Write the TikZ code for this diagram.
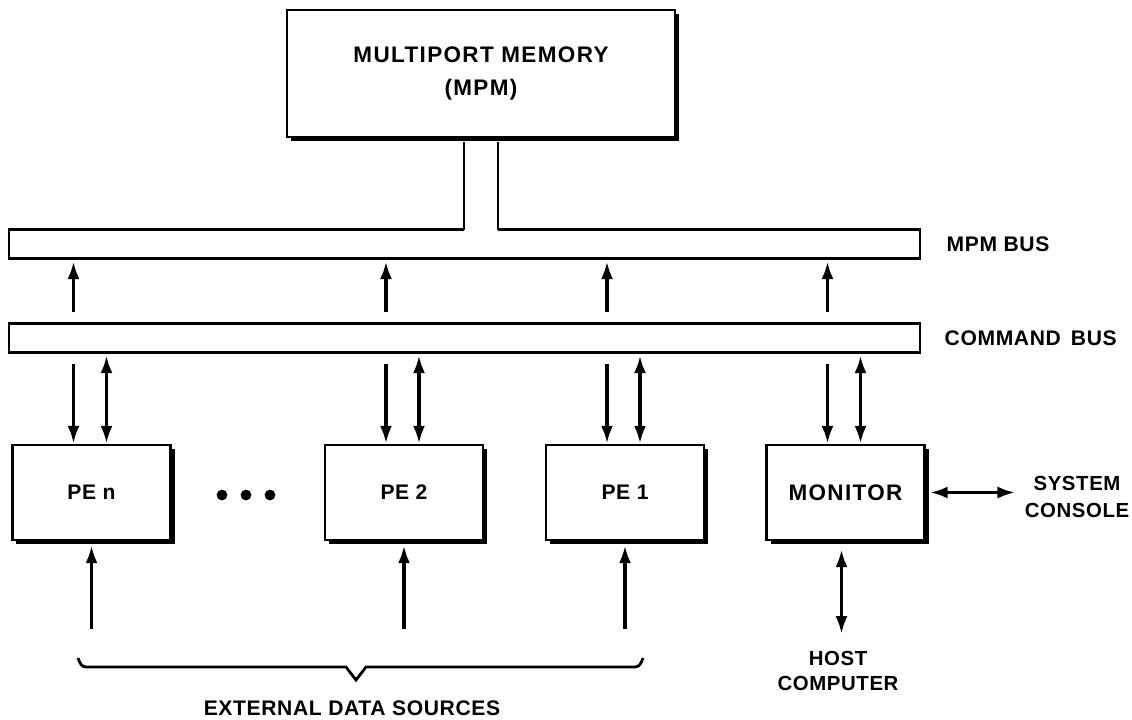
\documentclass[tikz,border=0pt]{standalone}
\usepackage{fontspec}
\setmainfont{Liberation Sans}
\newfontfamily\lbf{Liberation Sans}[LetterSpace=3]
\newfontfamily\lbw{Liberation Sans}[LetterSpace=6]
\usetikzlibrary{arrows.meta,shadows}
\begin{document}
\begin{tikzpicture}[x=0.25mm,y=-0.25mm,
  font=\lbf\bfseries\fontsize{15pt}{18pt}\selectfont,
  box/.style={draw,line width=0.6mm,fill=white,
    drop shadow={shadow xshift=1mm,shadow yshift=-1mm,fill=black,opacity=1},
    minimum width=39.5mm,minimum height=23.75mm,inner sep=0pt},
  bus/.style={draw,line width=0.7mm,fill=white,minimum width=227.75mm,minimum height=7.25mm,inner sep=0pt},
  arr/.style={line width=0.9mm,-{Latex[length=4.5mm,width=3mm]}},
  darr/.style={line width=0.9mm,{Latex[length=4.5mm,width=3mm]}-{Latex[length=4.5mm,width=3mm]}},
  lbl/.style={align=center,inner sep=0pt}]
\useasboundingbox (0,0) rectangle (1132,719);

% memory and buses
\node[box,minimum width=97mm,minimum height=31.75mm,align=center,
  font=\lbw\bfseries\fontsize{16pt}{24pt}\selectfont] (mpm) at (481,73.5) {MULTIPORT MEMORY\\(MPM)};
\node[bus] (mbus) at (464.5,244) {};
\node[bus] (cbus) at (464.5,338) {};

% stem joining memory to MPM bus
\fill[white] ([xshift=-4.25mm,yshift=0.7mm]mpm.south |- mbus.north) rectangle ([xshift=4.25mm,yshift=-0.7mm]mpm.south |- mbus.north);
\draw[line width=0.7mm] ([xshift=-4.25mm,yshift=-1mm]mpm.south) -- ([xshift=-4.25mm,yshift=-0.35mm]mpm.south |- mbus.north);
\draw[line width=0.7mm] ([xshift=4.25mm,yshift=-1mm]mpm.south) -- ([xshift=4.25mm,yshift=-0.35mm]mpm.south |- mbus.north);

\node[lbl,anchor=west] (mbuslbl) at ([xshift=6.25mm]mbus.east) {MPM\ BUS};
\node[lbl,anchor=west] (cbuslbl) at ([xshift=5.75mm]cbus.east) {COMMAND\ \,BUS};

% processing elements and monitor
\node[box] (pen) at (91.5,492.5) {PE n};
\node[box] (pe2) at (404,492.5) {PE 2};
\node[box] (pe1) at (625,492.5) {PE 1};
\node[box,font=\lbw\bfseries\fontsize{16pt}{18pt}\selectfont] (mon) at (845.5,492.5) {MONITOR};

% dots
\foreach \dx/\nm in {222/d1,246/d2,270/d3}
  \node[circle,fill=black,inner sep=0pt,minimum size=2.7mm] (\nm) at (\dx,495) {};

% bus connections
\foreach \pe in {pen,pe2,pe1,mon}{
  \draw[arr] ([xshift=-4.5mm,yshift=2.5mm]\pe.north |- cbus.north) -- ([xshift=-4.5mm,yshift=-0.3mm]\pe.north |- mbus.south);
  \draw[arr] ([xshift=-4.5mm,yshift=-2.5mm]\pe.north |- cbus.south) -- ([xshift=-4.5mm]\pe.north);
  \draw[darr] ([xshift=3.75mm,yshift=-0.3mm]\pe.north |- cbus.south) -- ([xshift=3.75mm]\pe.north);
}

% external data sources
\foreach \pe in {pen,pe2,pe1}{
  \coordinate (src\pe) at ([yshift=-22mm]\pe.south);
  \draw[arr] (src\pe) -- ([yshift=-1mm]\pe.south);
}
\draw[line width=0.7mm,line join=miter]
  (78,658) to[out=-70,in=180] (86,667) -- (346,667) -- (356,680) -- (366,667)
  -- (635,667) to[out=0,in=-110] (643,658);
\node[lbl] (ext) at (352,708) {EXTERNAL DATA SOURCES};

% monitor external links
\node[lbl,font=\lbf\bfseries\fontsize{14.5pt}{18pt}\selectfont] (host) at (838,671) {HOST\\COMPUTER};
\coordinate (hostend) at ([xshift=-1mm,yshift=-23.25mm]mon.south);
\draw[darr] ([xshift=-1mm,yshift=-2mm]mon.south) -- (hostend);
\node[lbl,font=\lbf\bfseries\fontsize{14.5pt}{19pt}\selectfont] (cons) at (1077,497) {SYSTEM\\CONSOLE};
\draw[darr] ([xshift=1mm]mon.east) -- ([xshift=-2.25mm]cons.west |- mon.east);
\end{tikzpicture}
\end{document}
